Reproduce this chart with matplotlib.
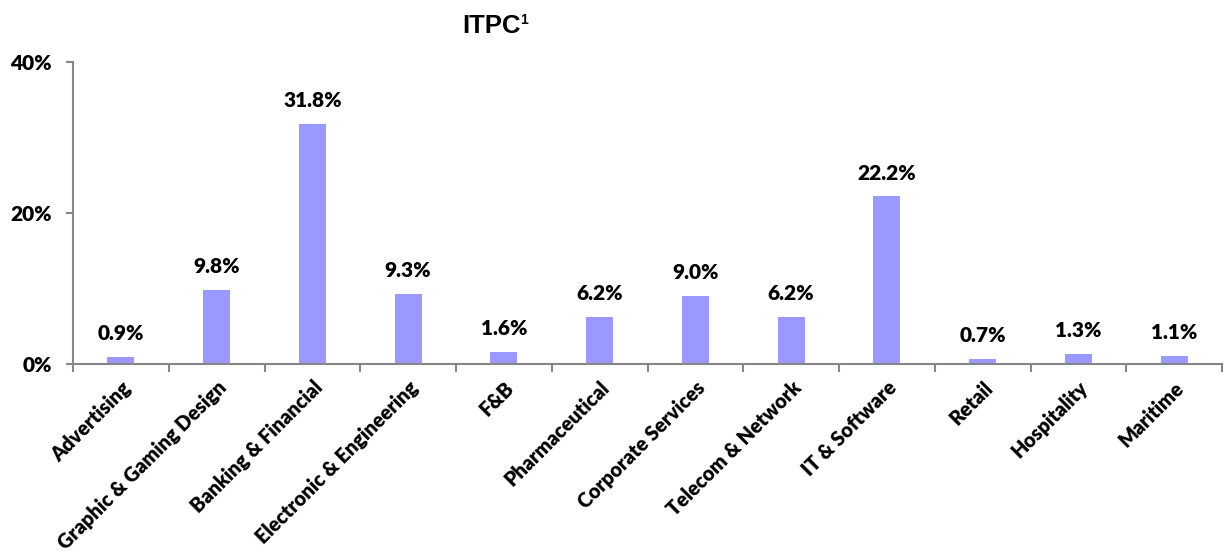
import matplotlib
matplotlib.use("Agg")
import matplotlib.pyplot as plt
import numpy as np

categories = ['Advertising', 'Graphic & Gaming Design', 'Banking & Financial',
              'Electronic & Engineering', 'F&B', 'Pharmaceutical',
              'Corporate Services', 'Telecom & Network', 'IT & Software',
              'Retail', 'Hospitality', 'Maritime']
values = [0.9, 9.8, 31.8, 9.3, 1.6, 6.2, 9.0, 6.2, 22.2, 0.7, 1.3, 1.1]
yticks = [0, 20, 40]

label_font = 'Lato'
label_weight = 'heavy'
bar_color = '#9999FF'
axis_color = '#868686'

fig = plt.figure(figsize=(12.3, 5.52), dpi=100)
ax = fig.add_axes([73 / 1230, 1 - 364 / 552, (1222 - 73) / 1230, (364 - 62) / 552])

x = np.arange(len(categories))
bars = ax.bar(x, values, width=0.28, color=bar_color, zorder=2)

for rect, v in zip(bars, values):
    ax.annotate('{:.1f}%'.format(v),
                xy=(rect.get_x() + rect.get_width() / 2, rect.get_height()),
                xytext=(0, 10), textcoords='offset points',
                ha='center', va='bottom', fontsize=15, fontweight=label_weight,
                family=label_font, color='black')

ax.set_xlim(-0.5, len(categories) - 0.5)
ax.set_ylim(0, 40)

# category ticks sit between the bars, like Excel
ax.set_xticks(np.arange(len(categories) + 1) - 0.5, minor=False)
ax.set_xticklabels([])
ax.set_xticks(x, minor=True)
ax.set_xticklabels(categories, minor=True, rotation=45, ha='right',
                   rotation_mode='anchor', fontsize=14.3, fontweight=label_weight,
                   family=label_font)
ax.tick_params(axis='x', which='minor', length=0, pad=10)
ax.tick_params(axis='x', which='major', length=6, width=1.5, color=axis_color,
               direction='out')

ax.set_yticks(yticks)
ax.set_yticklabels(['{}%'.format(t) for t in yticks], fontsize=15,
                   fontweight=label_weight, family=label_font)
ax.tick_params(axis='y', length=5, width=1.5, color=axis_color, pad=10)

for s in ['top', 'right']:
    ax.spines[s].set_visible(False)
for s in ['left', 'bottom']:
    ax.spines[s].set_color(axis_color)
    ax.spines[s].set_linewidth(1.5)

fig.text(521 / 1230, 1 - 33 / 552, 'ITPC', ha='right', va='baseline',
         fontsize=18.5, fontweight='bold', family='Liberation Sans')
fig.text(520 / 1230, 1 - 13 / 552, '1', ha='left', va='top',
         fontsize=10, fontweight='bold', family='Liberation Sans')

fig.savefig('out.png', dpi=100)
